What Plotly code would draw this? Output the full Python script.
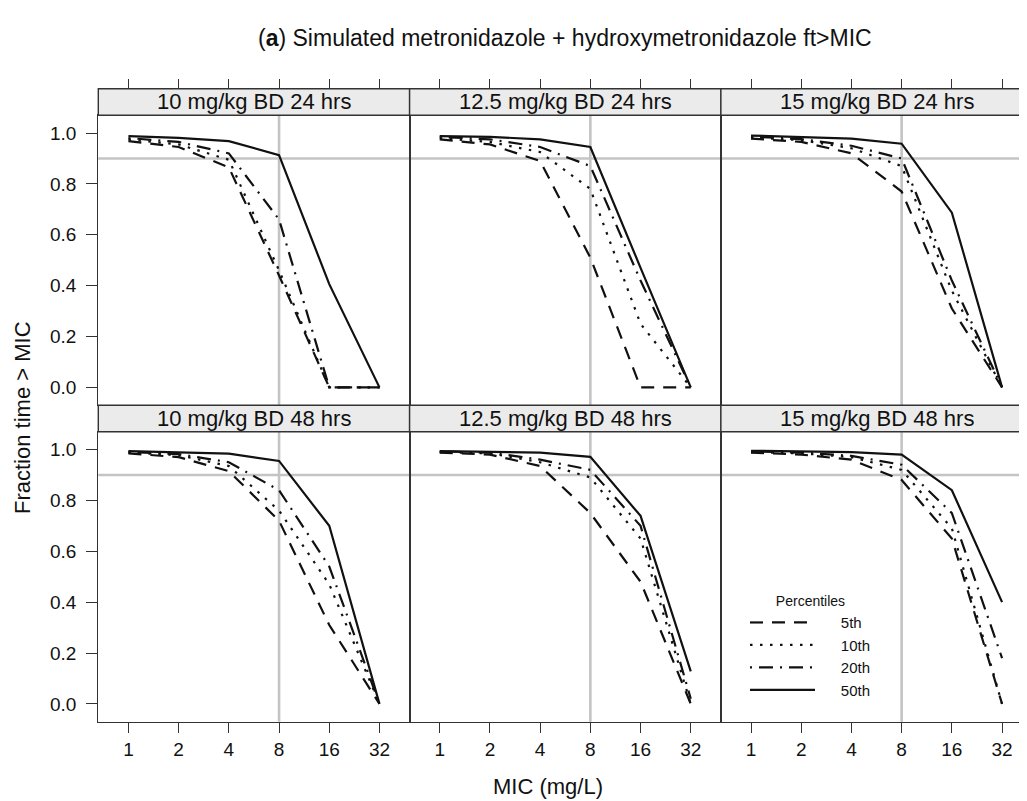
import plotly.graph_objects as go

# ---------------- data ----------------
MIC = [1, 2, 4, 8, 16, 32]
MIC_LABELS = ["1", "2", "4", "8", "16", "32"]
PERCENTILES = ["5th", "10th", "20th", "50th"]
PANEL_TITLES = ["10 mg/kg BD 24 hrs", "12.5 mg/kg BD 24 hrs", "15 mg/kg BD 24 hrs",
                "10 mg/kg BD 48 hrs", "12.5 mg/kg BD 48 hrs", "15 mg/kg BD 48 hrs"]
Y_TICKS = [0.0, 0.2, 0.4, 0.6, 0.8, 1.0]
TARGET_FT = 0.9
TARGET_MIC = 8

# 10 mg/kg BD 24 hrs
d10_24_p05 = [0.968, 0.945, 0.865, 0.44, 0.0, 0.0]
d10_24_p10 = [0.975, 0.955, 0.895, 0.46, 0.0, 0.0]
d10_24_p20 = [0.980, 0.965, 0.920, 0.66, 0.0, 0.0]
d10_24_p50 = [0.988, 0.981, 0.968, 0.913, 0.406, 0.0]
# 12.5 mg/kg BD 24 hrs
d125_24_p05 = [0.975, 0.955, 0.890, 0.51, 0.0, 0.0]
d125_24_p10 = [0.980, 0.965, 0.925, 0.78, 0.25, 0.0]
d125_24_p20 = [0.985, 0.975, 0.945, 0.87, 0.42, 0.0]
d125_24_p50 = [0.988, 0.985, 0.975, 0.945, 0.47, 0.0]
# 15 mg/kg BD 24 hrs
d15_24_p05 = [0.978, 0.965, 0.920, 0.77, 0.31, 0.0]
d15_24_p10 = [0.982, 0.972, 0.940, 0.87, 0.38, 0.0]
d15_24_p20 = [0.986, 0.976, 0.950, 0.90, 0.42, 0.0]
d15_24_p50 = [0.990, 0.985, 0.978, 0.958, 0.687, 0.0]
# 10 mg/kg BD 48 hrs
d10_48_p05 = [0.985, 0.970, 0.915, 0.72, 0.31, 0.0]
d10_48_p10 = [0.988, 0.978, 0.935, 0.76, 0.47, 0.0]
d10_48_p20 = [0.990, 0.982, 0.950, 0.84, 0.54, 0.0]
d10_48_p50 = [0.994, 0.990, 0.984, 0.955, 0.70, 0.0]
# 12.5 mg/kg BD 48 hrs
d125_48_p05 = [0.988, 0.980, 0.935, 0.75, 0.48, 0.0]
d125_48_p10 = [0.990, 0.985, 0.950, 0.89, 0.65, 0.0]
d125_48_p20 = [0.992, 0.988, 0.960, 0.92, 0.70, 0.02]
d125_48_p50 = [0.994, 0.992, 0.988, 0.971, 0.739, 0.128]
# 15 mg/kg BD 48 hrs
d15_48_p05 = [0.988, 0.980, 0.960, 0.88, 0.65, 0.0]
d15_48_p10 = [0.990, 0.985, 0.970, 0.92, 0.69, 0.0]
d15_48_p20 = [0.992, 0.988, 0.975, 0.94, 0.75, 0.18]
d15_48_p50 = [0.995, 0.993, 0.990, 0.98, 0.84, 0.40]

PANELS = [
    [d10_24_p05, d10_24_p10, d10_24_p20, d10_24_p50],
    [d125_24_p05, d125_24_p10, d125_24_p20, d125_24_p50],
    [d15_24_p05, d15_24_p10, d15_24_p20, d15_24_p50],
    [d10_48_p05, d10_48_p10, d10_48_p20, d10_48_p50],
    [d125_48_p05, d125_48_p10, d125_48_p20, d125_48_p50],
    [d15_48_p05, d15_48_p10, d15_48_p20, d15_48_p50],
]

# ---------------- styling / layout ----------------
W, H = 1027, 801
OFF = 8  # page body margin: figure is drawn 8px right/down of the window origin
FONT = "Liberation Sans, Arial, Helvetica, sans-serif"
DASHES = ["13px,9px", "2.5px,7.5px", "2px,7px,14px,7px", "solid"]
BORDER = "#333333"
GREY = "#c4c4c4"
NB = "\u00a0" * 5


def fx(p):  # screen px -> paper
    return (p - OFF) / W


def fy(p):
    return 1 - (p - OFF) / H


col_edges = [98.3, 409.6, 720.9, 1032.2]
rows = {  # strip_top, strip_bottom(panel_top), panel_bottom  (screen px)
    0: (88.7, 115.2, 405.2),
    1: (405.2, 431.7, 721.7),
}

L2 = 0.30103
XR = [-0.6 * L2, 5.6 * L2]

fig = go.Figure()
layout = dict(
    width=W, height=H,
    margin=dict(l=0, r=0, t=0, b=0),
    paper_bgcolor="white", plot_bgcolor="white",
    font=dict(family=FONT, color="black", size=19),
    showlegend=True,
)
shapes = []
annotations = []

for k in range(6):
    r, c = divmod(k, 3)
    n = k + 1
    xa = "x" if n == 1 else f"x{n}"
    ya = "y" if n == 1 else f"y{n}"
    s_top, p_top, p_bot = rows[r]
    x0 = col_edges[c]
    x1 = col_edges[c + 1]

    layout[f"xaxis{n}"] = dict(
        domain=[fx(x0), fx(x1)], anchor=ya, type="log", range=XR,
        tickvals=MIC, ticktext=MIC_LABELS,
        showgrid=False, zeroline=False,
        showline=True, mirror=True, linecolor=BORDER, linewidth=1.4,
        ticks="outside" if r == 1 else "", ticklen=10, tickwidth=1.4, tickcolor=BORDER,
        showticklabels=(r == 1), tickfont=dict(size=19, family=FONT, color="#111"),
    )
    layout[f"yaxis{n}"] = dict(
        domain=[fy(p_bot), fy(p_top)], anchor=xa, range=[-0.07, 1.07],
        tickvals=Y_TICKS, ticktext=[f"{v:.1f}" for v in Y_TICKS],
        showgrid=False, zeroline=False,
        showline=True, mirror=True, linecolor=BORDER, linewidth=1.4,
        ticks="outside" if c == 0 else "", ticklen=11, tickwidth=1.4, tickcolor=BORDER,
        showticklabels=(c == 0), ticklabelstandoff=6,
        tickfont=dict(size=19, family=FONT, color="#111"),
    )

    # reference lines
    shapes.append(dict(type="line", xref=f"{xa} domain", yref=ya, x0=0, x1=1,
                       y0=TARGET_FT, y1=TARGET_FT, line=dict(color=GREY, width=2.6), layer="below"))
    shapes.append(dict(type="line", xref=xa, yref=f"{ya} domain", x0=TARGET_MIC, x1=TARGET_MIC,
                       y0=0, y1=1, line=dict(color=GREY, width=2.6), layer="below"))
    # strip
    shapes.append(dict(type="rect", xref="paper", yref="paper",
                       x0=fx(x0), x1=fx(x1), y0=fy(p_top), y1=fy(s_top),
                       fillcolor="#ebebeb", line=dict(color=BORDER, width=1.4), layer="above"))
    annotations.append(dict(text=PANEL_TITLES[k], xref="paper", yref="paper",
                            x=fx((x0 + x1) / 2), y=fy((s_top + p_top) / 2),
                            xanchor="center", yanchor="middle", showarrow=False,
                            font=dict(size=22, family=FONT, color="#111")))

    for i, (name, vals) in enumerate(zip(PERCENTILES, PANELS[k])):
        fig.add_trace(go.Scatter(
            x=MIC, y=vals, mode="lines", name=NB + name, legendgroup=name,
            showlegend=(k == 0), xaxis=xa, yaxis=ya,
            line=dict(color="#111111", width=2.2, dash=DASHES[i]),
            hoverinfo="skip",
        ))

# top tick axes (above the strips, lattice style)
for c in range(3):
    n = 7 + c
    base = "x" if c == 0 else f"x{c + 1}"
    layout[f"xaxis{n}"] = dict(
        overlaying=base, anchor="free", position=fy(rows[0][0]), side="top",
        type="log", range=XR,
        tickvals=MIC, showticklabels=False, ticks="outside", ticklen=10,
        tickwidth=1.4, tickcolor=BORDER, showgrid=False, zeroline=False, showline=False,
    )
    fig.add_trace(go.Scatter(x=MIC, y=[None] * len(MIC), xaxis=f"x{n}",
                             yaxis="y" if c == 0 else f"y{c + 1}",
                             mode="lines", showlegend=False, hoverinfo="skip"))

annotations.append(dict(text="(<b>a</b>) Simulated metronidazole + hydroxymetronidazole ft>MIC",
                        xref="paper", yref="paper", x=fx(565), y=fy(38), xanchor="center",
                        yanchor="middle", showarrow=False, font=dict(size=23, family=FONT, color="#111")))
annotations.append(dict(text="Fraction time > MIC", xref="paper", yref="paper", x=fx(22), y=fy(418),
                        xanchor="center", yanchor="middle", textangle=-90, showarrow=False,
                        font=dict(size=22, family=FONT, color="#111")))
annotations.append(dict(text="MIC (mg/L)", xref="paper", yref="paper", x=fx(548), y=fy(786),
                        xanchor="center", yanchor="middle", showarrow=False,
                        font=dict(size=22, family=FONT, color="#111")))

layout["shapes"] = shapes
layout["annotations"] = annotations
layout["legend"] = dict(
    x=fx(745), y=fy(588), xanchor="left", yanchor="top",
    bgcolor="rgba(0,0,0,0)", borderwidth=0,
    title=dict(text="Percentiles", side="top center", font=dict(size=14, family=FONT, color="#111")),
    font=dict(size=15, family=FONT, color="#111"),
    itemwidth=65, tracegroupgap=0,
)
fig.update_layout(**layout)
fig.write_html("out.html")
